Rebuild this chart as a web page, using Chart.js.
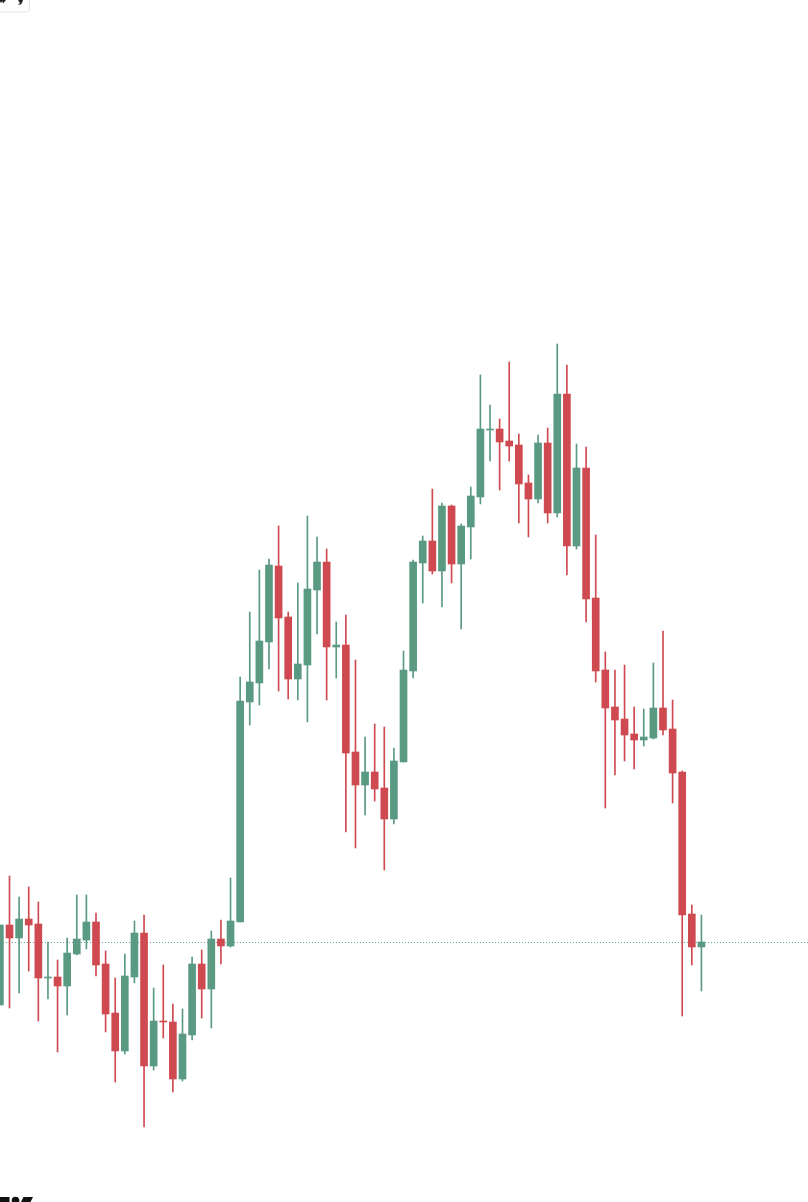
<!DOCTYPE html>
<html>
<head>
<meta charset="utf-8">
<style>
html,body{margin:0;padding:0;background:#fff;width:808px;height:1202px;overflow:hidden}
#wrap{position:relative;width:808px;height:1202px}
canvas{position:absolute;left:0;top:0}
.deco{position:absolute;left:0;top:0;pointer-events:none}
</style>
<script src="https://cdn.jsdelivr.net/npm/chart.js@4"></script>
</head>
<body>
<div id="wrap">
<canvas id="c" width="808" height="1202"></canvas>
<svg class="deco" width="808" height="1202" viewBox="0 0 808 1202" aria-hidden="true">
  <rect x="-4" y="-8" width="33.5" height="20" rx="3" fill="#fff" stroke="#e3e5ea" stroke-width="1"/>
  <path d="M-1 0 L3 0 L1 3 Z M2 0 L6 0 L3 3.5 Z" fill="#222"/>
  <path d="M18 0 L23 0 L22 3 Q21 5 18 5 L20 3 Z" fill="#222"/>
  <path d="M0 1197 H9.5 V1202 H0 Z" fill="#111"/>
  <circle cx="15.5" cy="1200.5" r="3.8" fill="#111"/>
  <path d="M23.5 1197 H33 L30.5 1202 H21 Z" fill="#111"/>
</svg>
</div>
<script>
const opens  = [197,277,264,283,278,224,225,216,248,262,280,238,189,151,225,269,136,181,180,123,167,238,213,263,256,280,500,519,560,636,585,523,537,612,640,555,557,450,417,430,414,383,440,531,639,661,631,696,638,675,705,772,773,761,757,719,703,759,689,808,656,734,604,532,495,483,468,462,464,494,473,430,288,255];
const closes = [277,264,283,277,224,225,216,249,263,280,237,188,151,226,269,136,181,180,123,168,238,213,263,256,281,501,520,561,637,584,523,538,613,640,555,557,449,417,430,413,383,441,532,640,661,631,696,638,676,706,773,773,760,756,718,703,759,689,808,656,734,603,531,494,482,467,462,465,494,472,429,287,255,260];
const highs  = [277,326,305,315,300,260,242,264,307,307,289,251,224,248,281,287,214,237,198,193,245,252,271,282,324,525,590,632,643,676,590,619,686,665,653,580,587,542,465,478,475,454,551,642,666,713,699,697,678,715,827,797,783,840,768,727,767,774,858,837,758,755,667,550,532,537,495,493,539,571,502,431,297,287];
const lows   = [197,194,209,231,181,203,150,187,247,253,226,170,120,148,219,75,132,164,110,121,162,184,174,238,255,280,477,497,533,511,503,502,480,568,502,524,370,354,387,401,332,378,440,524,599,628,595,619,573,643,698,741,712,741,679,665,699,679,685,627,653,580,520,394,427,441,433,456,463,467,399,186,237,211];
const lastPrice = 259.5;
const indices = opens.map((_, i) => i);

const RED = '#cf4a50', GREEN = '#5a9a82';
const colors = opens.map((o, i) => closes[i] >= o ? GREEN : RED);

new Chart(document.getElementById('c'), {
  type: 'bar',
  data: {
    datasets: [
      {
        label: 'Last price', type: 'line',
        data: [{x: 0, y: lastPrice}, {x: 85, y: lastPrice}],
        borderColor: GREEN, borderWidth: 1, borderDash: [1, 2],
        pointRadius: 0, fill: false, order: 3
      },
      {
        label: 'High-Low',
        data: indices.map(i => ({x: i, y: [lows[i], highs[i]]})),
        backgroundColor: colors, barThickness: 1, grouped: false, order: 2
      },
      {
        label: 'Open-Close',
        data: indices.map(i => ({x: i, y: [opens[i], closes[i]]})),
        backgroundColor: colors, barThickness: 7, grouped: false, order: 1
      }
    ]
  },
  options: {
    responsive: false, animation: false,
    layout: {padding: 0},
    plugins: {legend: {display: false}, title: {display: false}, tooltip: {enabled: false}},
    scales: {
      x: {type: 'linear', display: false, min: 0.0104, max: 84.09, offset: false, grid: {display: false}},
      y: {type: 'linear', display: false, min: 0, max: 1202, grid: {display: false}}
    }
  }
});
</script>
</body>
</html>
